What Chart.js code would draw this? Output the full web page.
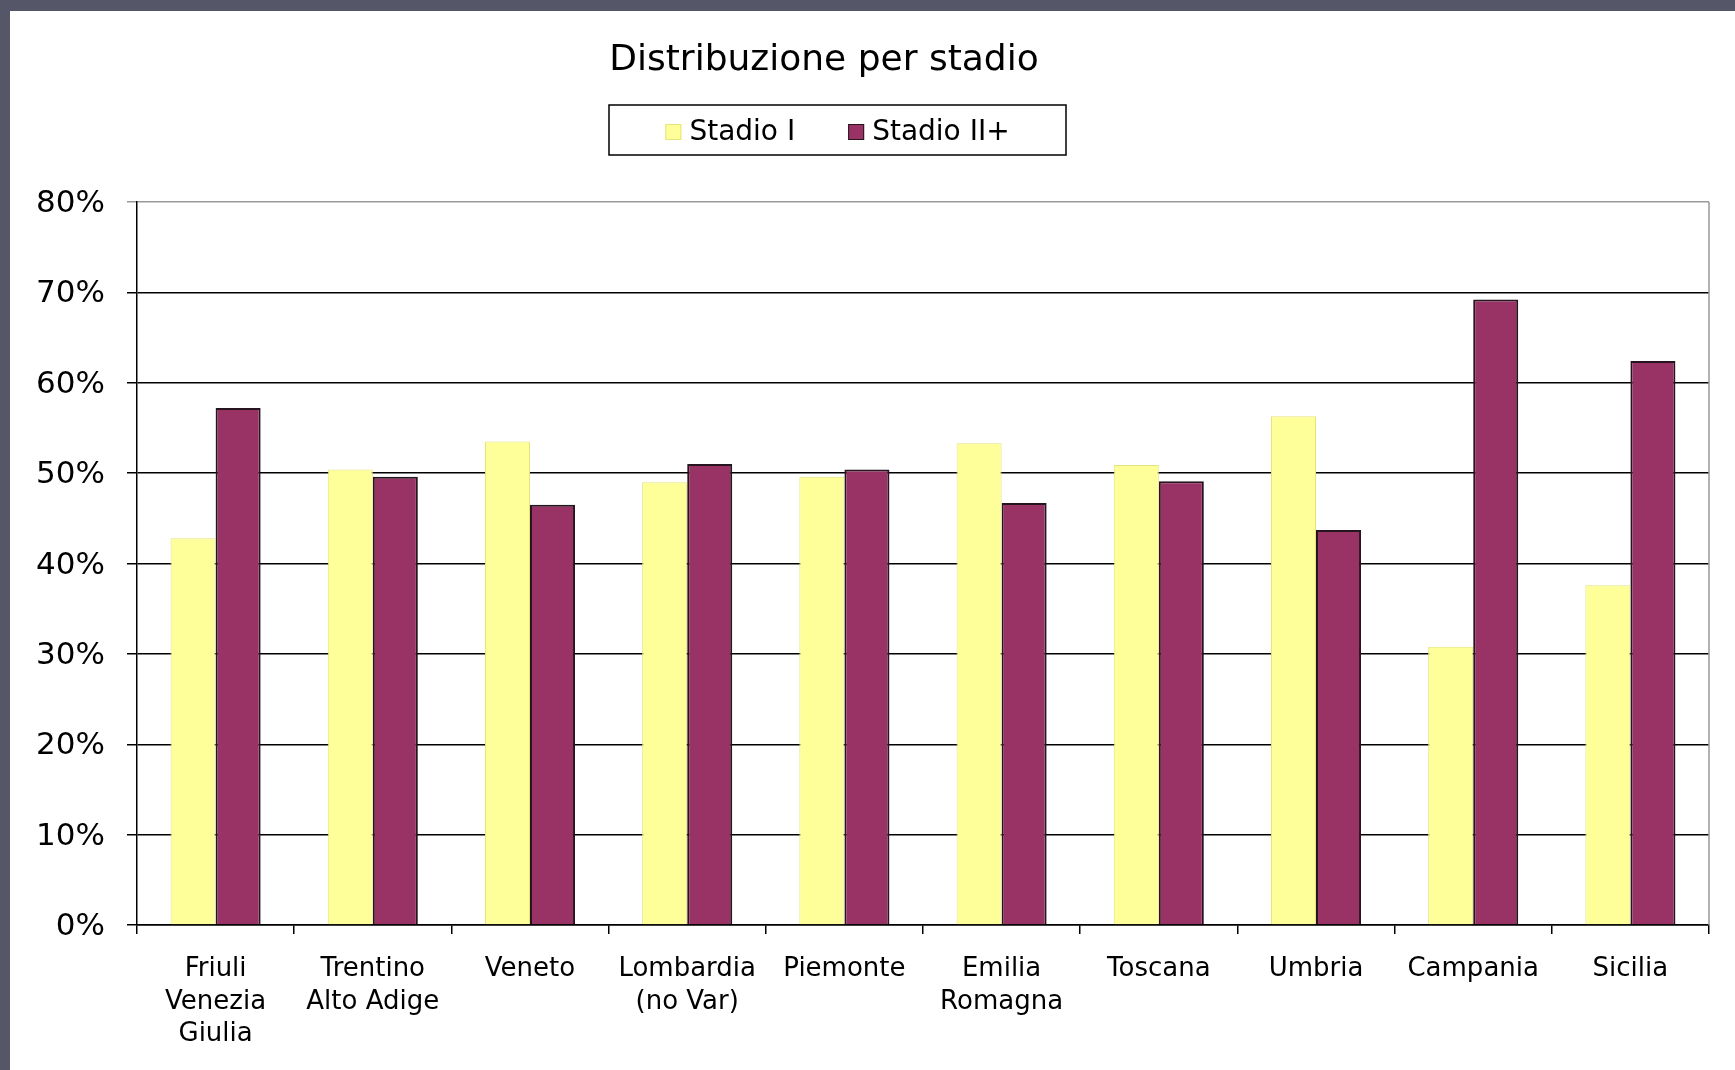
<!DOCTYPE html>
<html>
<head>
<meta charset="utf-8">
<title>Distribuzione per stadio</title>
<script src="https://cdn.jsdelivr.net/npm/chart.js@4.4.1/dist/chart.umd.min.js"></script>
<style>
  html, body { margin: 0; padding: 0; background: #555768; }
  #frame { position: absolute; left: 10px; top: 11px; width: 1725px; height: 1059px; background: #fff; }
</style>
</head>
<body>
<div id="frame"><canvas id="myChart" width="1725" height="1059"></canvas></div>
<script>
// regions (multi-line labels as arrays)
const regioni = [
  ['Friuli', 'Venezia', 'Giulia'],
  ['Trentino', 'Alto Adige'],
  'Veneto',
  ['Lombardia', '(no Var)'],
  'Piemonte',
  ['Emilia', 'Romagna'],
  'Toscana',
  'Umbria',
  'Campania',
  'Sicilia'
];

// % of cases per stage
const stadioI  = [42.8, 50.4, 53.5, 49.0, 49.6, 53.3, 50.9, 56.3, 30.8, 37.6];
const stadioII = [57.2, 49.6, 46.5, 51.0, 50.4, 46.7, 49.1, 43.7, 69.2, 62.4];

const yTicks = [0, 10, 20, 30, 40, 50, 60, 70, 80];

const FONT = '"DejaVu Sans", Verdana, sans-serif';

// title + boxed legend, drawn by hand
const header = {
  id: 'header',
  afterDraw(chart) {
    const ctx = chart.ctx;
    ctx.save();
    ctx.fillStyle = '#000';
    ctx.textBaseline = 'middle';
    ctx.textAlign = 'center';
    ctx.font = '36px ' + FONT;
    ctx.fillText('Distribuzione per stadio', 814, 50);

    // legend frame
    const box = { x: 599, y: 94, w: 457, h: 50 };
    ctx.lineWidth = 1.5;
    ctx.strokeStyle = '#000';
    ctx.strokeRect(box.x, box.y, box.w, box.h);

    ctx.font = '28px ' + FONT;
    ctx.textAlign = 'left';
    const sw = 16, gap = 8, between = 53;
    const items = chart.data.datasets.map(ds => ({
      label: ds.label, fill: ds.backgroundColor, stroke: ds.borderColor,
      w: sw + gap + ctx.measureText(ds.label).width
    }));
    const total = items.reduce((s, it) => s + it.w, 0) + between * (items.length - 1);
    let x = box.x + box.w / 2 - total / 2;
    const cy = box.y + box.h / 2 + 2;
    items.forEach(it => {
      ctx.fillStyle = it.fill;
      ctx.fillRect(x, cy - sw / 2, sw, sw);
      ctx.lineWidth = 1;
      ctx.strokeStyle = it.stroke;
      ctx.strokeRect(x + 0.5, cy - sw / 2 + 0.5, sw - 1, sw - 1);
      ctx.fillStyle = '#000';
      ctx.fillText(it.label, x + sw + gap, cy + 1);
      x += it.w + between;
    });

    // grey right edge of the plot area
    const a = chart.chartArea;
    ctx.strokeStyle = '#999';
    ctx.lineWidth = 1.5;
    ctx.beginPath();
    ctx.moveTo(a.right, a.top);
    ctx.lineTo(a.right, a.bottom);
    ctx.stroke();
    ctx.restore();
  }
};

const ctx = document.getElementById('myChart').getContext('2d');
const myChart = new Chart(ctx, {
  type: 'bar',
  data: {
    labels: regioni,
    datasets: [{
      label: 'Stadio I',
      data: stadioI,
      backgroundColor: '#FFFF99',
      borderColor: '#E4E47A',
      borderWidth: 1
    }, {
      label: 'Stadio II+',
      data: stadioII,
      backgroundColor: '#993366',
      borderColor: '#26141E',
      borderWidth: 2
    }]
  },
  options: {
    responsive: false,
    animation: false,
    categoryPercentage: 0.573,
    barPercentage: 1.0,
    layout: { padding: { top: 191, right: 26, left: 0, bottom: 0 } },
    plugins: {
      legend: { display: false },
      title: { display: false },
      tooltip: { enabled: false }
    },
    scales: {
      x: {
        afterFit: scale => { scale.height = 145; },
        ticks: {
          color: '#000',
          font: { family: FONT, size: 26, lineHeight: 1.25 },
          padding: 19,
          maxRotation: 0,
          autoSkip: false
        },
        grid: {
          drawOnChartArea: false,
          drawTicks: true,
          tickLength: 9,
          offset: true,
          color: '#000',
          lineWidth: 1.5
        },
        border: { color: '#000', width: 1.5 }
      },
      y: {
        min: 0,
        max: 80,
        afterFit: scale => { scale.width = 127; },
        afterBuildTicks: axis => { axis.ticks = yTicks.map(v => ({ value: v })); },
        ticks: {
          color: '#000',
          font: { family: FONT, size: 31 },
          padding: 22,
          labelOffset: 2,
          callback: v => v + '%'
        },
        grid: {
          color: c => (c.tick && c.tick.value === 80 ? '#999' : '#000'),
          lineWidth: 1.5,
          tickLength: 10
        },
        border: { color: '#000', width: 1.5 }
      }
    }
  },
  plugins: [header]
});
</script>
</body>
</html>
